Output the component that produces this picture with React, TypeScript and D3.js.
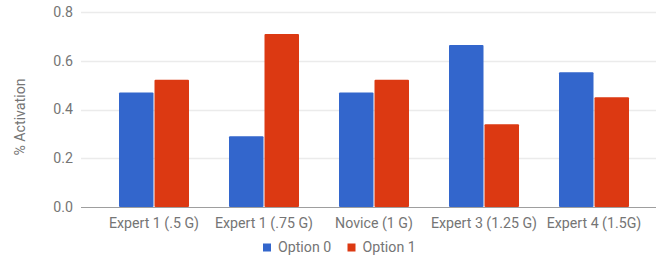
import React from "react";
import * as d3 from "d3";

const categories = ["Expert 1 (.5 G)", "Expert 1 (.75 G)", "Novice (1 G)", "Expert 3 (1.25 G)", "Expert 4 (1.5G)"];
const seriesNames = ["Option 0", "Option 1"];
const option0 = [0.47, 0.29, 0.47, 0.665, 0.553];
const option1 = [0.522, 0.71, 0.522, 0.34, 0.45];
const yTicks = [0, 0.2, 0.4, 0.6, 0.8];
const colors = ["#3366cc", "#dc3912"];

const W = 657;
const H = 262;
const font = "Roboto, 'Noto Sans', sans-serif";
const textColor = "#757575";
const fs = 14.2;

export default function App() {
  const plotLeft = 81;
  const plotRight = 656;
  const y = d3.scaleLinear().domain([0, 0.8]).range([207, 12]);
  const x0 = d3.scaleBand<string>().domain(categories).range([99, 649]).padding(0);
  const groupW = 70;
  const x1 = d3.scaleBand<string>().domain(seriesNames).range([0, groupW]).paddingInner(1 / 35.5);
  const series = [option0, option1];

  return (
    <svg width={W} height={H} style={{ position: "absolute", left: 0, top: 0, display: "block" }} fontFamily={font}>
      <rect x={0} y={0} width={W} height={H} fill="#fff" />
      {yTicks.map((t) => (
        <g key={t}>
          {t !== 0 && (
            <line x1={plotLeft} x2={plotRight} y1={Math.round(y(t)) + 0.5} y2={Math.round(y(t)) + 0.5} stroke="#ebebeb" strokeWidth={1.5} />
          )}
          <text x={73} y={y(t)} dy="0.35em" textAnchor="end" fontSize={fs} fill={textColor}>
            {d3.format(".1f")(t)}
          </text>
        </g>
      ))}
      {categories.map((c, i) => {
        const gx = (x0(c) as number) + x0.bandwidth() / 2 - groupW / 2;
        return (
          <g key={c}>
            {series.map((s, j) => (
              <rect
                key={j}
                x={gx + (x1(seriesNames[j]) as number)}
                y={y(s[i])}
                width={x1.bandwidth()}
                height={y(0) - y(s[i])}
                fill={colors[j]}
                rx={1}
              />
            ))}
            <text x={(x0(c) as number) + x0.bandwidth() / 2} y={223} dy="0.35em" textAnchor="middle" fontSize={fs} fill={textColor}>
              {c}
            </text>
          </g>
        );
      })}
      <line x1={plotLeft} x2={plotRight} y1={Math.round(y(0)) + 0.5} y2={Math.round(y(0)) + 0.5} stroke="#9e9e9e" strokeWidth={1} />
      <text transform={`translate(20,117) rotate(-90)`} textAnchor="middle" dy="0.35em" fontSize={fs} fill={textColor}>
        % Activation
      </text>
      {seriesNames.map((n, j) => {
        const lx = j === 0 ? 263 : 347.5;
        return (
          <g key={n}>
            <rect x={lx} y={243.5} width={8} height={8} fill={colors[j]} />
            <text x={lx + 15} y={247.5} dy="0.35em" fontSize={fs} fill={textColor}>
              {n}
            </text>
          </g>
        );
      })}
    </svg>
  );
}
